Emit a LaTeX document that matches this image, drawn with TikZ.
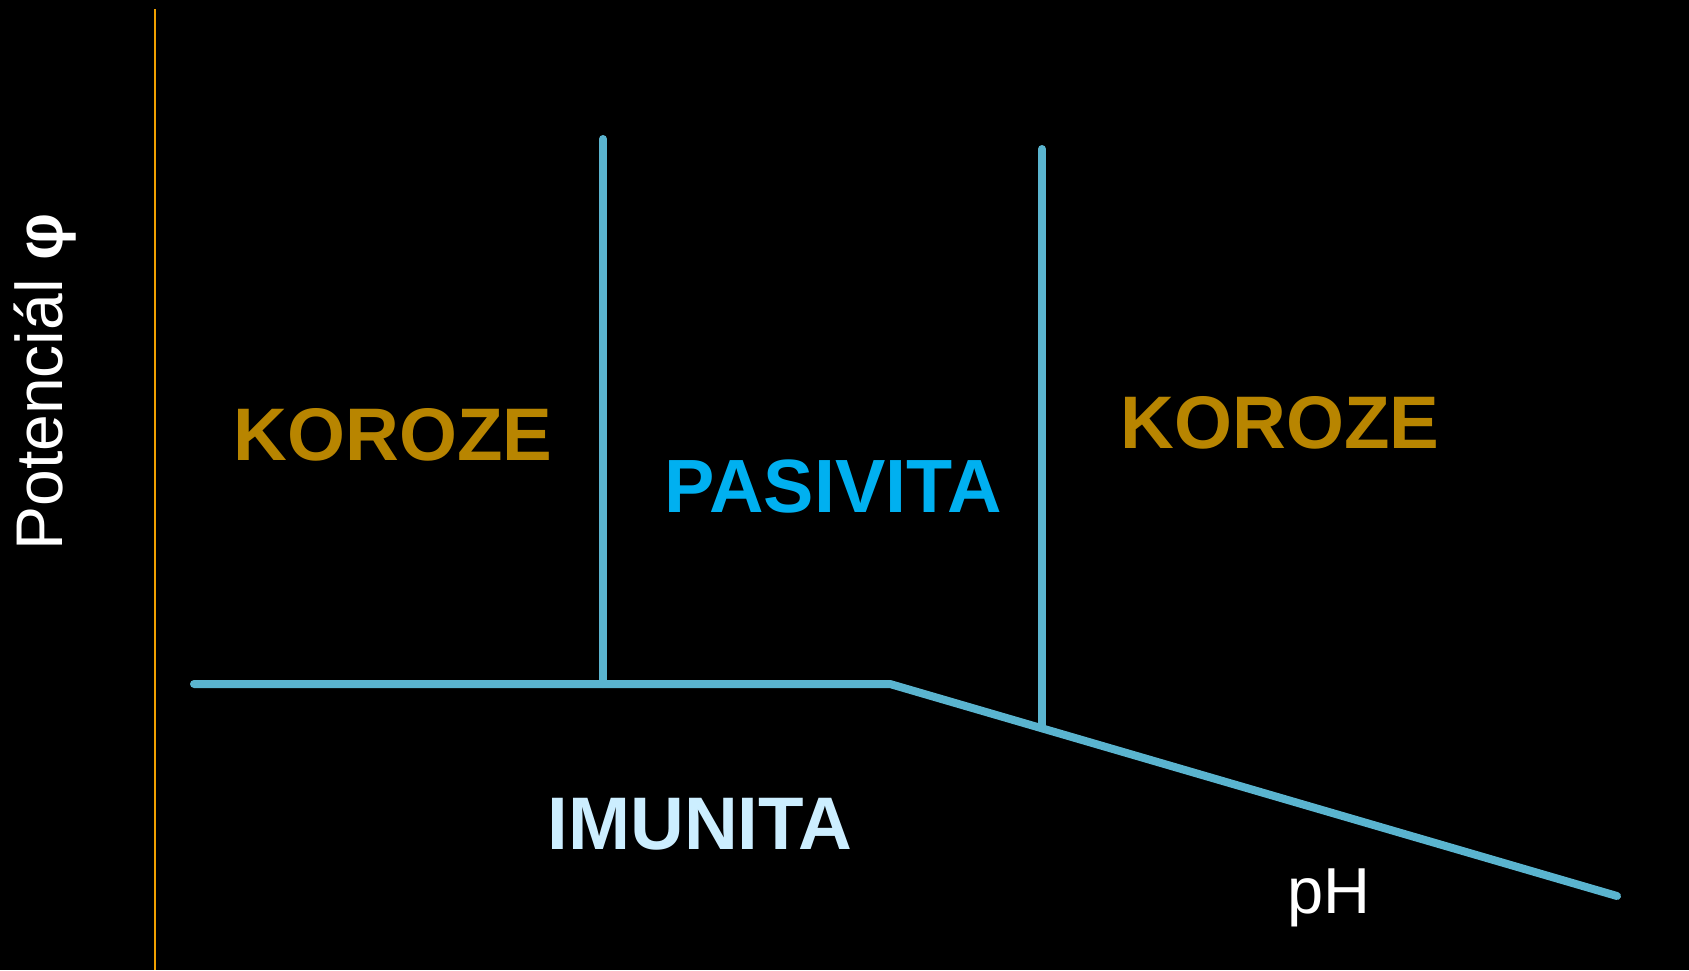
\documentclass[tikz,border=0pt]{standalone}
\usepackage{fontspec}
\setmainfont{Liberation Sans}
\definecolor{linecol}{HTML}{5AB4CF}
\definecolor{axiscol}{HTML}{F0A000}
\definecolor{korcol}{HTML}{B88500}
\definecolor{pascol}{HTML}{00B0F0}
\definecolor{imucol}{HTML}{CCEEFF}
\begin{document}
\begin{tikzpicture}[x=1pt,y=-1pt,
  boundary/.style={draw=linecol,line width=8pt,line cap=round},
  region/.style={font=\fontsize{74.5}{80}\selectfont\bfseries,anchor=base,inner sep=0pt},
  axislbl/.style={text=white,inner sep=0pt,anchor=base}]
\fill[black] (0,0) rectangle (1689,970);
\useasboundingbox (0,0) rectangle (1689,970);
% axis
\coordinate (at) at (155,9);
\coordinate (ab) at (155,970);
\draw[axiscol,line width=1.5pt] (at) -- (ab);
% boundary points
\coordinate (h0) at (194,684);
\coordinate (v1b) at (603,684);
\coordinate (v1t) at (603,139);
\coordinate (k) at (890,684);
\coordinate (v2t) at (1042,149);
\coordinate (v2b) at (1042,728);
\coordinate (d) at (1617,896);
\draw[boundary] (h0) -- (k) -- (d);
\draw[boundary] (v1t) -- (v1b);
\draw[boundary] (v2t) -- (v2b);
% labels
\node[region,text=korcol] (kor1) at (393,460) {KOROZE};
\node[region,text=pascol,font=\fontsize{75.5}{80}\selectfont\bfseries] (pas) at (833,512) {PASIVITA};
\node[region,text=korcol] (kor2) at (1280,448) {KOROZE};
\node[region,text=imucol] (imu) at (700,849) {IMUNITA};
\node[axislbl,font=\fontsize{65}{70}\selectfont] (ph) at (1329,913) {pH};
\node[axislbl,rotate=90,font=\fontsize{66}{72}\selectfont] (pot) at (62,382) {Potenciál {\bfseries φ}};
\end{tikzpicture}
\end{document}
